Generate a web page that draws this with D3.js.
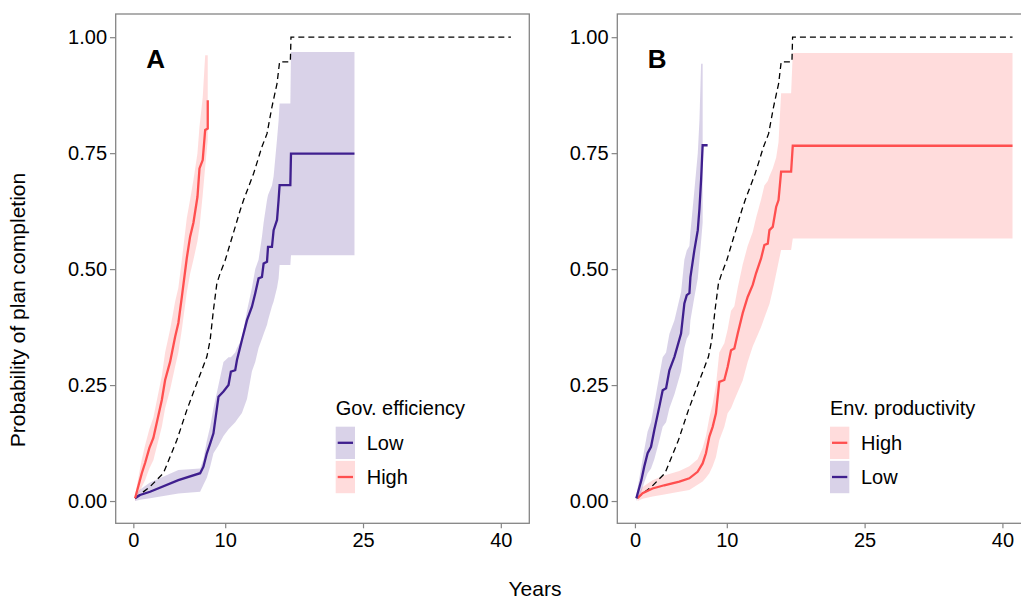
<!DOCTYPE html>
<html>
<head>
<meta charset="utf-8">
<script src="https://cdn.jsdelivr.net/npm/d3@7"></script>
<style>
    body { margin: 0; background: #fff; }
    svg text { font-family: 'Liberation Sans', Arial, sans-serif; fill: #000; }
</style>
</head>
<body>
<div id="chart"></div>
<script>
'use strict';

var xTicks = [0, 10, 25, 40];
var yTicks = [0, 0.25, 0.5, 0.75, 1];

// Overall curve (dashed, same in both panels). Vertices.
var allTime = [0.19, 1.82, 3.27, 4.73, 5.82, 6.91, 8.0, 8.36, 8.72, 9.09, 9.45, 10.0, 10.54, 11.09, 11.63, 12.0, 13.09, 14.0, 14.55, 15.09, 15.64, 15.92, 17.09, 17.16, 41.1];
var allProb = [0.006, 0.031, 0.06, 0.131, 0.196, 0.254, 0.311, 0.347, 0.412, 0.469, 0.491, 0.519, 0.555, 0.591, 0.627, 0.649, 0.706, 0.764, 0.792, 0.85, 0.90, 0.947, 0.947, 1.0, 1.0];

// Panel A - government efficiency, low.
var govLowTime  = [0.19, 0.73, 1.82, 4.9, 7.27, 7.63, 8.0, 8.36, 8.72, 9.27, 9.81, 10.36, 10.62, 11.09, 11.28, 11.82, 12.37, 12.91, 13.27, 13.63, 14.0, 14.18, 14.55, 14.66, 15.09, 15.27, 15.64, 15.81, 15.92, 17.09, 17.16, 24.07];
var govLowEst   = [0.006, 0.013, 0.02, 0.045, 0.06, 0.074, 0.103, 0.124, 0.146, 0.225, 0.236, 0.25, 0.279, 0.282, 0.304, 0.347, 0.39, 0.419, 0.448, 0.48, 0.483, 0.512, 0.516, 0.548, 0.548, 0.584, 0.606, 0.649, 0.681, 0.681, 0.749, 0.749];
var govLowLower = [0.0, 0.003, 0.006, 0.016, 0.02, 0.035, 0.05, 0.074, 0.103, 0.12, 0.14, 0.155, 0.16, 0.17, 0.175, 0.19, 0.22, 0.28, 0.30, 0.33, 0.35, 0.36, 0.38, 0.39, 0.42, 0.43, 0.46, 0.48, 0.509, 0.509, 0.53, 0.53];
var govLowUpper = [0.012, 0.025, 0.04, 0.067, 0.07, 0.09, 0.13, 0.16, 0.2, 0.25, 0.30, 0.31, 0.31, 0.32, 0.33, 0.35, 0.41, 0.46, 0.50, 0.52, 0.57, 0.60, 0.649, 0.66, 0.68, 0.70, 0.78, 0.82, 0.857, 0.857, 0.968, 0.968];

// Panel A - government efficiency, high.
var govHighTime  = [0.19, 0.92, 1.28, 1.74, 2.18, 3.1, 3.46, 4.0, 4.55, 4.9, 5.28, 5.82, 6.18, 6.54, 6.98, 7.2, 7.55, 7.82, 8.1, 8.1];
var govHighEst   = [0.006, 0.06, 0.082, 0.114, 0.136, 0.218, 0.261, 0.30, 0.354, 0.384, 0.44, 0.524, 0.57, 0.60, 0.656, 0.717, 0.735, 0.80, 0.803, 0.864];
var govHighLower = [0.0, 0.03, 0.045, 0.07, 0.088, 0.16, 0.20, 0.24, 0.29, 0.32, 0.37, 0.45, 0.49, 0.52, 0.56, 0.59, 0.66, 0.72, 0.778, 0.778];
var govHighUpper = [0.012, 0.09, 0.12, 0.155, 0.18, 0.27, 0.32, 0.37, 0.43, 0.46, 0.52, 0.61, 0.65, 0.692, 0.75, 0.807, 0.87, 0.961, 0.961, 0.961];

// Panel B - environmental productivity, high.
var envHighTime  = [0.29, 0.83, 1.92, 3.19, 4.83, 5.92, 6.82, 7.37, 7.73, 8.1, 8.46, 8.82, 9.18, 9.73, 10.09, 10.46, 10.82, 11.19, 11.73, 12.27, 12.82, 13.18, 13.73, 14.09, 14.46, 14.64, 15.0, 15.37, 15.63, 15.91, 17.0, 17.18, 41.1];
var envHighEst   = [0.006, 0.017, 0.027, 0.034, 0.042, 0.049, 0.063, 0.081, 0.103, 0.139, 0.16, 0.189, 0.257, 0.261, 0.289, 0.325, 0.329, 0.361, 0.405, 0.44, 0.466, 0.491, 0.523, 0.552, 0.555, 0.584, 0.591, 0.634, 0.649, 0.71, 0.71, 0.766, 0.766];
var envHighLower = [0.0, 0.005, 0.01, 0.014, 0.02, 0.024, 0.035, 0.042, 0.05, 0.06, 0.075, 0.095, 0.131, 0.16, 0.189, 0.2, 0.218, 0.235, 0.26, 0.30, 0.333, 0.35, 0.375, 0.395, 0.415, 0.425, 0.455, 0.49, 0.515, 0.541, 0.541, 0.566, 0.566];
var envHighUpper = [0.012, 0.03, 0.045, 0.055, 0.065, 0.075, 0.09, 0.115, 0.14, 0.18, 0.21, 0.25, 0.32, 0.34, 0.37, 0.41, 0.42, 0.46, 0.51, 0.55, 0.58, 0.61, 0.65, 0.68, 0.69, 0.70, 0.717, 0.74, 0.774, 0.879, 0.879, 0.966, 0.966];

// Panel B - environmental productivity, low (no CI on the last step).
var envLowTime  = [0.15, 0.7, 1.01, 1.38, 1.75, 2.11, 2.65, 3.02, 3.39, 3.75, 4.3, 5.02, 5.38, 5.64, 5.93, 6.04, 6.47, 6.84, 7.02, 7.2, 7.37, 7.91];
var envLowEst   = [0.006, 0.045, 0.074, 0.103, 0.117, 0.153, 0.203, 0.239, 0.243, 0.282, 0.311, 0.361, 0.426, 0.444, 0.448, 0.483, 0.541, 0.584, 0.63, 0.692, 0.767, 0.767];
var envLowLower = [0.0, 0.02, 0.04, 0.06, 0.07, 0.09, 0.13, 0.16, 0.17, 0.2, 0.23, 0.28, 0.33, 0.35, 0.36, 0.39, 0.44, 0.48, 0.52, 0.56, 0.60, null];
var envLowUpper = [0.012, 0.075, 0.11, 0.15, 0.17, 0.21, 0.27, 0.31, 0.32, 0.36, 0.39, 0.45, 0.52, 0.54, 0.55, 0.58, 0.67, 0.75, 0.82, 0.943, 0.943, null];

var RED    = '#ff4f4f',
    PURPLE = '#3f1f8e';

function makeSeries(label, color, time, est, lower, upper) {
    return {
        label: label,
        color: color,
        points: time.map(function (t, i) {
            return {t: t, est: est[i], lower: lower[i], upper: upper[i]};
        })
    };
}

var overall = allTime.map(function (t, i) {
    return {t: t, p: allProb[i]};
});

var panels = [
    {
        tag:         'A',
        left:        115.7,
        legendX:     335.7,
        legendTitle: 'Gov. efficiency',
        series:      [
            makeSeries('Low', PURPLE, govLowTime, govLowEst, govLowLower, govLowUpper),
            makeSeries('High', RED, govHighTime, govHighEst, govHighLower, govHighUpper)
        ]
    },
    {
        tag:         'B',
        left:        617.3,
        legendX:     830,
        legendTitle: 'Env. productivity',
        series:      [
            makeSeries('High', RED, envHighTime, envHighEst, envHighLower, envHighUpper),
            makeSeries('Low', PURPLE, envLowTime, envLowEst, envLowLower, envLowUpper)
        ]
    }
];

var width       = 1021,
    height      = 601,
    panelTop    = 14,
    panelWidth  = 413.6,
    panelHeight = 509.3,
    frameColor  = '#858585';

var svg = d3.select('#chart').append('svg')
    .attr('width', width)
    .attr('height', height);

var x = d3.scaleLinear().domain([-1.92, 43.1]).range([0, panelWidth]);
var y = d3.scaleLinear().domain([-0.048, 1.05]).range([panelHeight, 0]);

// The curves are dense step functions; the vertices above already hold the visible corners.
var band = d3.area()
    .defined(function (d) { return d.lower !== null; })
    .x(function (d) { return x(d.t); })
    .y0(function (d) { return y(d.lower); })
    .y1(function (d) { return y(d.upper); });

var km = d3.line()
    .x(function (d) { return x(d.t); })
    .y(function (d) { return y(d.est); });

var dashed = d3.line()
    .x(function (d) { return x(d.t); })
    .y(function (d) { return y(d.p); });

panels.forEach(function (panel) {
    var g = svg.append('g')
        .attr('transform', 'translate(' + panel.left + ',' + panelTop + ')');

    // Confidence bands first, then the overall curve and the group curves.
    g.selectAll('.band')
        .data(panel.series)
        .enter().append('path')
        .attr('class', 'band')
        .attr('d', function (s) { return band(s.points); })
        .attr('fill', function (s) { return s.color; })
        .attr('fill-opacity', 0.2);

    g.append('path')
        .attr('d', dashed(overall))
        .attr('fill', 'none')
        .attr('stroke', '#000')
        .attr('stroke-width', 1.3)
        .attr('stroke-dasharray', '6,4');

    g.selectAll('.km')
        .data(panel.series)
        .enter().append('path')
        .attr('class', 'km')
        .attr('d', function (s) { return km(s.points); })
        .attr('fill', 'none')
        .attr('stroke', function (s) { return s.color; })
        .attr('stroke-width', 2.3)
        .attr('stroke-linejoin', 'miter');

    // Axes.
    var yAxis = g.append('g')
        .call(d3.axisLeft(y).tickValues(yTicks).tickFormat(d3.format('.2f')).tickSize(5.7).tickPadding(3));

    var xAxis = g.append('g')
        .attr('transform', 'translate(0,' + panelHeight + ')')
        .call(d3.axisBottom(x).tickValues(xTicks).tickSize(5).tickPadding(4.5));

    [xAxis, yAxis].forEach(function (ax) {
        ax.select('.domain').remove();
        ax.selectAll('line').attr('stroke', frameColor).attr('stroke-width', 1.2);
        ax.selectAll('text').attr('font-size', '20px').attr('fill', '#000')
            .style('font-family', "'Liberation Sans', Arial, sans-serif");
    });

    g.append('rect')
        .attr('width', panelWidth)
        .attr('height', panelHeight)
        .attr('fill', 'none')
        .attr('stroke', frameColor)
        .attr('stroke-width', 1.3);

    g.append('text')
        .attr('x', 30.5)
        .attr('y', 54.3)
        .attr('font-size', '26px')
        .attr('font-weight', 'bold')
        .text(panel.tag);

    // Legend.
    var legend = svg.append('g')
        .attr('transform', 'translate(' + panel.legendX + ',400)');

    legend.append('text')
        .attr('x', 0)
        .attr('y', 14.5)
        .attr('font-size', '20px')
        .text(panel.legendTitle);

    var key = legend.selectAll('.key')
        .data(panel.series)
        .enter().append('g')
        .attr('class', 'key')
        .attr('transform', function (s, i) { return 'translate(0,' + (26.7 + i * 34.2) + ')'; });

    key.append('rect')
        .attr('width', 19.3)
        .attr('height', 32.3)
        .attr('fill', function (s) { return s.color; })
        .attr('fill-opacity', 0.2);

    key.append('line')
        .attr('x1', 2)
        .attr('x2', 17.3)
        .attr('y1', 16.1)
        .attr('y2', 16.1)
        .attr('stroke', function (s) { return s.color; })
        .attr('stroke-width', 2.3);

    key.append('text')
        .attr('x', 31)
        .attr('y', 23.3)
        .attr('font-size', '20px')
        .text(function (s) { return s.label; });
});

// Shared axis titles.
svg.append('text')
    .attr('transform', 'translate(25,310) rotate(-90)')
    .attr('text-anchor', 'middle')
    .attr('font-size', '21px')
    .text('Probability of plan completion');

svg.append('text')
    .attr('x', 535)
    .attr('y', 596)
    .attr('text-anchor', 'middle')
    .attr('font-size', '21px')
    .text('Years');
</script>
</body>
</html>
